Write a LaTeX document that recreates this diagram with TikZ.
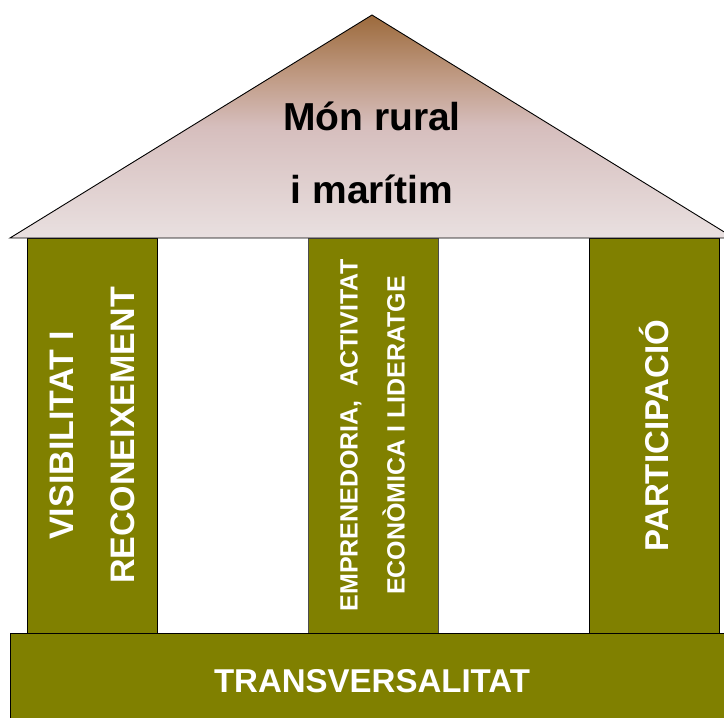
\documentclass[tikz,border=0pt]{standalone}
\usepackage{fontspec}
\setmainfont{Liberation Sans}
\usetikzlibrary{positioning}
\definecolor{olivebar}{HTML}{808000}
\definecolor{rooftop}{RGB}{156,106,60}
\definecolor{roofmid}{RGB}{190,152,128}
\definecolor{roofpink}{RGB}{214,190,189}
\definecolor{roofbase}{RGB}{233,224,224}
\pgfdeclareverticalshading{roofshading}{100bp}{color(0bp)=(roofbase); color(25bp)=(roofbase); color(50bp)=(roofpink); color(62bp)=(roofmid); color(75bp)=(rooftop); color(100bp)=(rooftop)}
\tikzset{
    pillar/.style={draw=black, fill=olivebar, line width=0.9pt, minimum width=130pt, minimum height=395pt, inner sep=0pt},
    pillarlabel/.style={rotate=90, text=white, align=center, inner sep=0pt},
    roof/.style={draw=black, line width=0.9pt, shading=roofshading},
    plinth/.style={pillar, minimum width=724pt, minimum height=97pt, text=white, font=\bfseries\fontsize{33}{40}\selectfont}
}

\begin{document}
\begin{tikzpicture}[x=1pt, y=-1pt]
    \clip (0,0) rectangle (724,718);

    % columns
    \node[pillar] (p1) at (92.5,435.5) {};
    \node[pillar, right=150pt of p1, draw=black!70] (p2) {};
    \node[pillar, right=150pt of p2] (p3) {};

    \node[pillarlabel, font=\bfseries\fontsize{34}{61}\selectfont] (l1) at (p1.center) {VISIBILITAT I\\RECONEIXEMENT};
    \node[pillarlabel, font=\bfseries\fontsize{25}{47}\selectfont] (l2) at ([xshift=-1pt]p2.center) {EMPRENEDORIA,\ \ ACTIVITAT\\ECONÒMICA I LIDERATGE};
    \node[pillarlabel, font=\bfseries\fontsize{33}{40}\selectfont] (l3) at (p3.center) {PARTICIPACIÓ};

    % roof
    \coordinate (eaveL) at (10,238);
    \coordinate (eaveR) at (734,238);
    \coordinate (apex) at (372,15);
    \draw[roof] (eaveL) -- (apex) -- (eaveR) -- cycle;
    \node[align=center, font=\bfseries\fontsize{39}{73}\selectfont] (title) at (372,153) {Món rural\\i marítim};

    % base
    \node[plinth] (base) at (372,681.5) {TRANSVERSALITAT};
\end{tikzpicture}
\end{document}
